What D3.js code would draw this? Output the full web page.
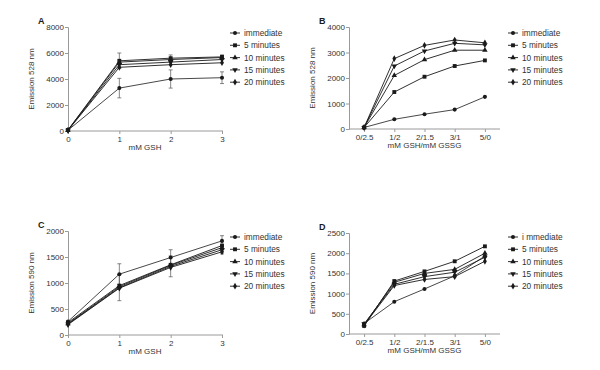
<!DOCTYPE html>
<html>
<head>
<meta charset="utf-8">
<script src="https://cdn.jsdelivr.net/npm/d3@7"></script>
<style>
  body { margin: 0; background: #fff; }
  svg text { font-family: "Liberation Sans", Arial, sans-serif; }
</style>
</head>
<body>
<div id="chart"></div>
<script>
// series names & x categories
const seriesNames = ["immediate", "5 minutes", "10 minutes", "15 minutes", "20 minutes"];
const seriesNamesD = ["i mmediate", "5 minutes", "10 minutes", "15 minutes", "20 minutes"];
const gshDoses = [0, 1, 2, 3];
const ratioCats = ["0/2.5", "1/2", "2/1.5", "3/1", "5/0"];

// panel A - Emission 528 nm vs mM GSH
const aValues = [
  [60, 3300, 4000, 4100],
  [80, 5400, 5600, 5700],
  [70, 5300, 5500, 5650],
  [60, 5100, 5300, 5500],
  [50, 4900, 5100, 5250]
];
const aErrors = [
  [0, 750, 700, 450],
  [0, 600, 250, 150],
  [0, 0, 0, 0],
  [0, 0, 0, 0],
  [0, 0, 0, 0]
];

// panel B - Emission 528 nm vs GSH/GSSG
const bValues = [
  [60, 380, 580, 760, 1260],
  [60, 1450, 2050, 2470, 2690],
  [60, 2100, 2720, 3090, 3090],
  [60, 2470, 3060, 3360, 3300],
  [60, 2760, 3280, 3490, 3380]
];

// panel C - Emission 590 nm vs mM GSH
const cValues = [
  [260, 1170, 1490, 1810],
  [240, 950, 1350, 1720],
  [220, 930, 1340, 1680],
  [210, 910, 1320, 1640],
  [200, 900, 1300, 1600]
];
const cErrors = [
  [0, 200, 150, 100],
  [0, 0, 0, 0],
  [0, 0, 0, 0],
  [0, 250, 200, 80],
  [0, 0, 0, 0]
];

// panel D - Emission 590 nm vs GSH/GSSG
const dValues = [
  [260, 800, 1115, 1440, 1930],
  [200, 1310, 1550, 1800, 2170],
  [230, 1280, 1500, 1600, 2000],
  [250, 1230, 1420, 1530, 1900],
  [220, 1200, 1350, 1420, 1800]
];

const yTicksA = [0, 2000, 4000, 6000, 8000];
const yTicksB = [0, 1000, 2000, 3000, 4000];
const yTicksC = [0, 500, 1000, 1500, 2000];
const yTicksD = [0, 500, 1000, 1500, 2000, 2500];

const W = 600, H = 370;
const svg = d3.select("#chart").append("svg")
  .attr("width", W).attr("height", H);

const ink = "#1a1a1a";
const axisCol = "#9a9a9a";
const symbols = [d3.symbolCircle, d3.symbolSquare, d3.symbolTriangle, d3.symbolTriangle, d3.symbolDiamond];

function marker(g, i, x, y) {
  let s = g.append("path")
    .attr("d", d3.symbol().type(symbols[i]).size(i == 1 ? 15 : 13)())
    .attr("transform", "translate(" + x + "," + y + ")" + (i == 3 ? " rotate(180)" : ""))
    .attr("fill", ink);
  return s;
}

function drawPanel(cfg) {
  let g = svg.append("g");

  let x;
  if (cfg.categorical) {
    x = d3.scalePoint().domain(cfg.xs).range([cfg.left, cfg.right]).padding(0.5);
  } else {
    x = d3.scaleLinear().domain([0, 3]).range([cfg.left, cfg.right]);
  }
  let y = d3.scaleLinear().domain([0, cfg.yMax]).range([cfg.bottom, cfg.top]);

  // axes
  let yAxis = d3.axisLeft(y).tickValues(cfg.yTicks).tickSize(3).tickPadding(1)
    .tickFormat(d3.format("d"));
  let ya = g.append("g").attr("transform", "translate(" + cfg.left + ",0)").call(yAxis);
  let xAxis = (cfg.categorical ? d3.axisBottom(x) : d3.axisBottom(x).tickValues(cfg.xs).tickFormat(d3.format("d")))
    .tickSize(3).tickPadding(2).tickSizeOuter(0);
  let xa = g.append("g").attr("transform", "translate(0," + cfg.bottom + ")").call(xAxis);
  [ya, xa].forEach(a => {
    a.select(".domain").attr("stroke", axisCol);
    a.selectAll(".tick line").attr("stroke", axisCol);
    a.selectAll(".tick text").attr("fill", "#333").style("font-size", "8px");
  });
  if (!cfg.categorical) xa.select(".domain").attr("d", "M" + cfg.left + ",0H" + (cfg.right + 1));
  else xa.select(".domain").attr("d", "M" + cfg.left + ",0H" + cfg.right);

  // titles
  g.append("text")
    .attr("x", (cfg.left + cfg.right) / 2).attr("y", cfg.bottom + 19)
    .attr("text-anchor", "middle").attr("fill", "#333").style("font-size", "8px")
    .text(cfg.xTitle);
  g.append("text")
    .attr("transform", "translate(" + (cfg.left - 34) + "," + ((cfg.top + cfg.bottom) / 2) + ")rotate(-90)")
    .attr("text-anchor", "middle").attr("fill", "#333").style("font-size", "8px")
    .text(cfg.yTitle);
  g.append("text")
    .attr("x", cfg.left - 30).attr("y", cfg.top - 3)
    .attr("fill", ink).style("font-size", "9px").style("font-weight", "bold")
    .text(cfg.label);

  let line = d3.line().x((d, j) => x(cfg.xs[j])).y(d => y(d));

  // error bars
  if (cfg.errors) {
    cfg.errors.forEach((errs, i) => {
      errs.forEach((e, j) => {
        if (!e) return;
        let cx = x(cfg.xs[j]), v = cfg.values[i][j];
        g.append("line").attr("x1", cx).attr("x2", cx)
          .attr("y1", y(v - e)).attr("y2", y(v + e))
          .attr("stroke", "#555").attr("stroke-width", 0.7);
        [v - e, v + e].forEach(t => {
          g.append("line").attr("x1", cx - 2).attr("x2", cx + 2)
            .attr("y1", y(t)).attr("y2", y(t))
            .attr("stroke", "#555").attr("stroke-width", 0.7);
        });
      });
    });
  }

  cfg.values.forEach((vals, i) => {
    g.append("path").datum(vals)
      .attr("d", line)
      .attr("fill", "none")
      .attr("stroke", i == 0 ? "#333" : ink)
      .attr("stroke-width", 0.9);
    vals.forEach((v, j) => marker(g, i, x(cfg.xs[j]), y(v)));
  });

  // legend
  cfg.names.forEach((n, i) => {
    let ly = cfg.legY + i * 12.3;
    g.append("line").attr("x1", cfg.legX - 5).attr("x2", cfg.legX + 5)
      .attr("y1", ly).attr("y2", ly).attr("stroke", ink).attr("stroke-width", 0.9);
    marker(g, i, cfg.legX, ly);
    g.append("text").attr("x", cfg.legX + 9).attr("y", ly + 3)
      .attr("fill", "#333").style("font-size", "8.3px").text(n);
  });
}

drawPanel({label: "A", left: 68, right: 222, top: 27, bottom: 131, yMax: 8000, yTicks: yTicksA,
  xs: gshDoses, values: aValues, errors: aErrors, names: seriesNames,
  xTitle: "mM GSH", yTitle: "Emission 528 nm", legX: 235, legY: 33});
drawPanel({label: "B", left: 349, right: 500, top: 27, bottom: 129, yMax: 4000, yTicks: yTicksB,
  xs: ratioCats, categorical: true, values: bValues, names: seriesNames,
  xTitle: "mM GSH/mM GSSG", yTitle: "Emission 528 nm", legX: 513, legY: 33});
drawPanel({label: "C", left: 68, right: 222, top: 231, bottom: 335, yMax: 2000, yTicks: yTicksC,
  xs: gshDoses, values: cValues, errors: cErrors, names: seriesNames,
  xTitle: "mM GSH", yTitle: "Emission 590 nm", legX: 235, legY: 237});
drawPanel({label: "D", left: 349, right: 500, top: 233, bottom: 334, yMax: 2500, yTicks: yTicksD,
  xs: ratioCats, categorical: true, values: dValues, names: seriesNamesD,
  xTitle: "mM GSH/mM GSSG", yTitle: "Emission 590 nm", legX: 513, legY: 237});
</script>
</body>
</html>
